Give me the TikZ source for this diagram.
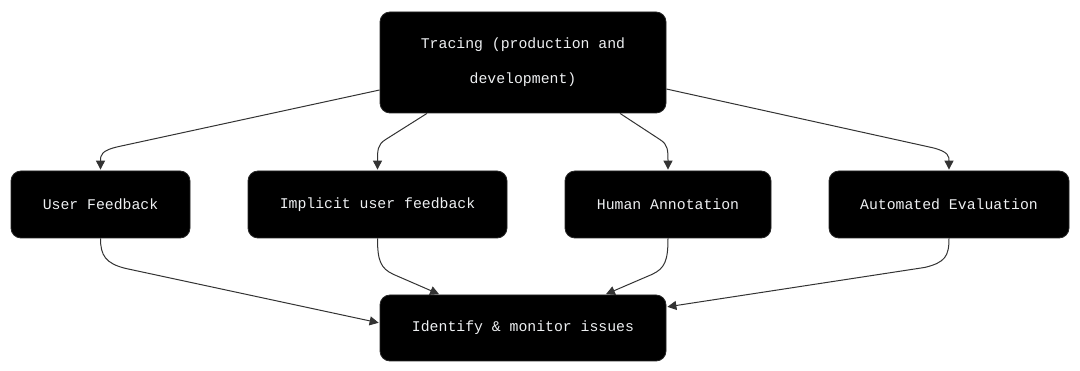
\documentclass[tikz,border=0pt]{standalone}
\usepackage{fontspec}
\setmonofont{Liberation Mono}
\usetikzlibrary{arrows.meta,calc}
\definecolor{edgec}{HTML}{333333}
\definecolor{txtc}{HTML}{EEF0F2}
\tikzset{
  box/.style={draw=black!85, line width=0.8pt, fill=black, rounded corners=10pt,
    text=txtc, font=\ttfamily\fontsize{14.8}{35}\selectfont, align=center,
    inner sep=0pt, minimum height=67pt},
  arr/.style={draw=edgec, line width=1pt, -{Triangle[length=9pt,width=9pt]}, shorten >=1pt}
}
\begin{document}
\begin{tikzpicture}[x=1pt,y=-1pt]
\useasboundingbox[fill=white] (0,0) rectangle (1080,371);
\node[box, minimum width=286pt, minimum height=101pt] (top) at (523,62.5) {\raisebox{-2pt}{Tracing (production and}\\\raisebox{-2pt}{development)}};
\node[box, minimum width=179pt] (uf) at (100.5,204.5) {User Feedback};
\node[box, minimum width=259pt] (impl) at (377.5,204.5) {Implicit user feedback};
\node[box, minimum width=206pt] (human) at (668,204.5) {Human Annotation};
\node[box, minimum width=240pt] (auto) at (949,204.5) {Automated Evaluation};
\node[box, minimum width=286pt, minimum height=66pt] (id) at (523,328) {Identify \& monitor issues};

\draw[arr] ([yshift=-27.5pt]top.west) -- ($(uf.north)+(18,-24)$)
  .. controls ($(uf.north)+(0,-20)$) and ($(uf.north)+(0,-15)$) .. (uf.north);
\draw[arr] ([xshift=-96pt]top.south) -- ($(impl.north)+(8,-31)$)
  .. controls ($(impl.north)+(0,-26)$) and ($(impl.north)+(0,-20)$) .. (impl.north);
\draw[arr] ([xshift=97pt]top.south) -- ($(human.north)+(-8,-31)$)
  .. controls ($(human.north)+(0,-26)$) and ($(human.north)+(0,-20)$) .. (human.north);
\draw[arr] ([yshift=-26.5pt]top.east) -- ($(auto.north)+(-17,-23)$)
  .. controls ($(auto.north)+(0,-19)$) and ($(auto.north)+(0,-14)$) .. (auto.north);

\draw[arr] (uf.south) .. controls ($(uf.south)+(0,17)$) and ($(uf.south)+(5,25)$)
  .. ($(uf.south)+(25,30)$) -- ([yshift=5pt]id.west);
\draw[arr] (impl.south) .. controls ($(impl.south)+(0,22)$) and ($(impl.south)+(3,30)$)
  .. ($(impl.south)+(16,36)$) -- ([xshift=-83pt]id.north);
\draw[arr] (human.south) .. controls ($(human.south)+(0,22)$) and ($(human.south)+(-3,30)$)
  .. ($(human.south)+(-16,36)$) -- ([xshift=82pt]id.north);
\draw[arr] (auto.south) .. controls ($(auto.south)+(0,18)$) and ($(auto.south)+(-4,24)$)
  .. ($(auto.south)+(-24,29)$) -- ([yshift=21pt]id.east);
\end{tikzpicture}
\end{document}
